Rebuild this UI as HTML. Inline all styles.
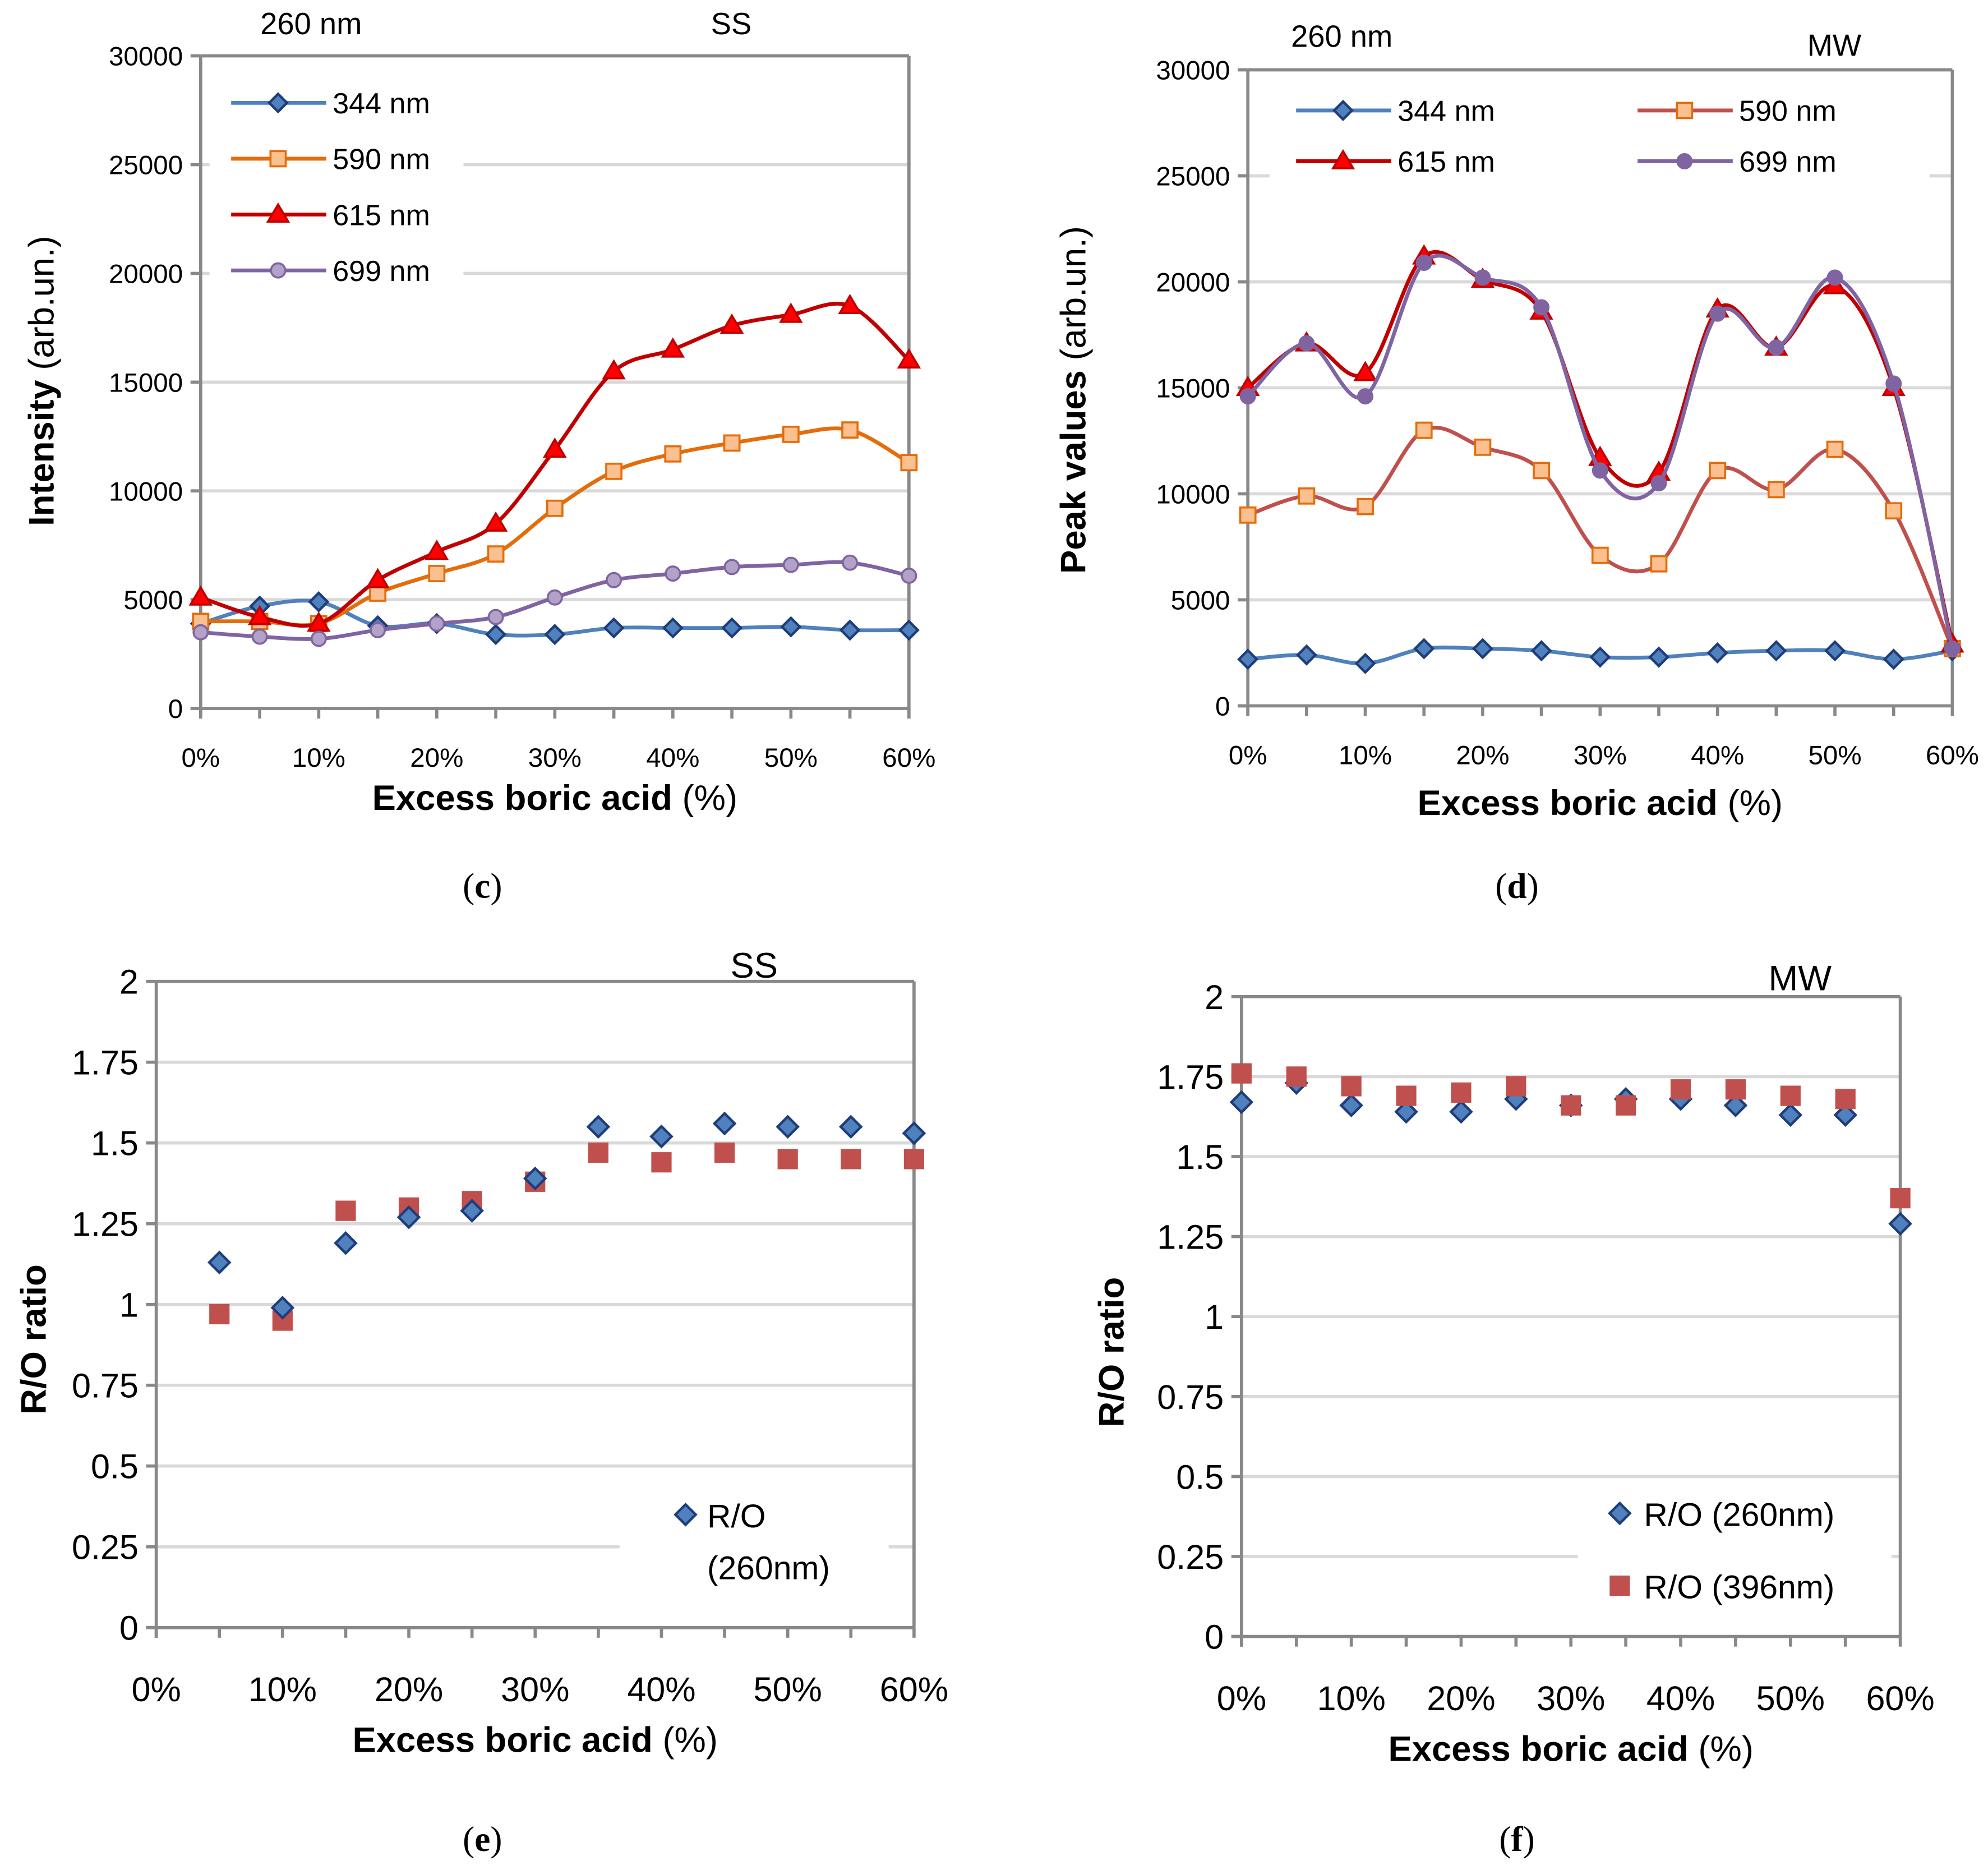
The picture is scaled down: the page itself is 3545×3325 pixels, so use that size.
<!DOCTYPE html>
<html><head><meta charset="utf-8"><style>
html,body{margin:0;padding:0;background:#fff}
svg{display:block}
text{font-family:"Liberation Sans",sans-serif}
text.serif{font-family:"Liberation Serif",serif}
</style></head><body>
<svg id="s" width="3545" height="3325" viewBox="0 0 1566 1469" xmlns="http://www.w3.org/2000/svg">
<rect width="1566" height="1469" fill="#fff"/>
</svg>
<script>
const xPct=[0,5,10,15,20,25,30,35,40,45,50,55,60];
const xTickLabels=["0%","10%","20%","30%","40%","50%","60%"];
// Panel c (SS)
const c344=[3900,4700,4900,3800,3900,3400,3400,3700,3700,3700,3750,3600,3600];
const c590=[4000,4000,3900,5300,6200,7100,9200,10900,11700,12200,12600,12800,11300];
const c615=[5100,4200,3900,5900,7200,8500,11900,15500,16500,17600,18100,18500,16000];
const c699=[3500,3300,3200,3600,3900,4200,5100,5900,6200,6500,6600,6700,6100];
// Panel d (MW)
const d344=[2200,2400,2000,2700,2700,2600,2300,2300,2500,2600,2600,2200,2600];
const d590=[9000,9900,9400,13000,12200,11100,7100,6700,11100,10200,12100,9200,2700];
const d615=[15000,17100,15700,21200,20100,18600,11700,11000,18700,16900,19800,15000,2900];
const d699=[14600,17100,14600,20900,20200,18800,11100,10500,18500,16900,20200,15200,2700];
const intTicks=[0,5000,10000,15000,20000,25000,30000];
// Panel e (SS)
const eX=[5,10,15,20,25,30,35,40,45,50,55,60];
const e260=[1.13,0.99,1.19,1.27,1.29,1.39,1.55,1.52,1.56,1.55,1.55,1.53];
const e396=[0.97,0.95,1.29,1.30,1.32,1.38,1.47,1.44,1.47,1.45,1.45,1.45];
// Panel f (MW)
const f260=[1.67,1.73,1.66,1.64,1.64,1.68,1.66,1.68,1.68,1.66,1.63,1.63,1.29];
const f396=[1.76,1.75,1.72,1.69,1.70,1.72,1.66,1.66,1.71,1.71,1.69,1.68,1.37];
const ratioTicks=[0,0.25,0.5,0.75,1,1.25,1.5,1.75,2];
const ratioLabels=["0","0.25","0.5","0.75","1","1.25","1.5","1.75","2"];

const svg=document.getElementById('s');
const NS='http://www.w3.org/2000/svg';
function mk(tag,attrs,parent){const e=document.createElementNS(NS,tag);for(const k in attrs)e.setAttribute(k,attrs[k]);(parent||svg).appendChild(e);return e;}
function txt(s,x,y,size,opts,parent){const t=mk('text',Object.assign({x:x,y:y,'font-size':size,fill:'#000'},opts||{}),parent);t.textContent=s;return t;}
function smooth(pts){let d='M'+pts[0][0]+','+pts[0][1];for(let i=0;i<pts.length-1;i++){const p0=pts[Math.max(0,i-1)],p1=pts[i],p2=pts[i+1],p3=pts[Math.min(pts.length-1,i+2)];const t=6;d+=' C'+(p1[0]+(p2[0]-p0[0])/t)+','+(p1[1]+(p2[1]-p0[1])/t)+' '+(p2[0]-(p3[0]-p1[0])/t)+','+(p2[1]-(p3[1]-p1[1])/t)+' '+p2[0]+','+p2[1];}return d;}
function marker(type,x,y,g,fill,stroke,r){
  let e;
  if(type==='diamond')e=mk('polygon',{points:`${x},${y-r} ${x+r},${y} ${x},${y+r} ${x-r},${y}`,fill:fill,stroke:stroke,'stroke-width':2},g);
  else if(type==='square')e=mk('rect',{x:x-r,y:y-r,width:2*r,height:2*r,fill:fill,stroke:stroke,'stroke-width':stroke==='none'?0:1.6},g);
  else if(type==='triangle')e=mk('polygon',{points:`${x},${y-r-1} ${x+r+1},${y+r*0.8} ${x-r-1},${y+r*0.8}`,fill:fill,stroke:stroke,'stroke-width':1.6},g);
  else e=mk('circle',{cx:x,cy:y,r:r*0.8,fill:fill,stroke:stroke,'stroke-width':1.6},g);
  
  
  return e;
}
function axes(cfg){
  const g=mk('g',{});
  
  
  const X=v=>cfg.x0+(cfg.x1-cfg.x0)*v/60;
  const Y=v=>cfg.y0+(cfg.yTop-cfg.y0)*v/cfg.yMax;
  cfg.yTicks.forEach((v,i)=>{
    if(v>0&&v<cfg.yMax){const gl=mk('line',{x1:cfg.x0,x2:cfg.x1,y1:Y(v),y2:Y(v),stroke:'#d9d9d9','stroke-width':2.5},g);}
  });
  if(cfg.legendBox){const lb=mk('rect',Object.assign({fill:'#fff'},cfg.legendBox),g);}
  mk('line',{x1:cfg.x0,x2:cfg.x1,y1:Y(cfg.yMax),y2:Y(cfg.yMax),stroke:'#888','stroke-width':2.5},g);
  mk('line',{x1:cfg.x1,x2:cfg.x1,y1:Y(cfg.yMax),y2:cfg.y0,stroke:'#888','stroke-width':2.5},g);
  const ya=mk('line',{x1:cfg.x0,x2:cfg.x0,y1:Y(cfg.yMax),y2:cfg.y0+8,stroke:'#888','stroke-width':2.5},g);
  
  const xa=mk('line',{x1:cfg.x0-8,x2:cfg.x1,y1:cfg.y0,y2:cfg.y0,stroke:'#888','stroke-width':2.5},g);
  
  cfg.yTicks.forEach((v,i)=>{
    mk('line',{x1:cfg.x0-8,x2:cfg.x0,y1:Y(v),y2:Y(v),stroke:'#888','stroke-width':2.5},g);
    const t=txt(cfg.yLabels[i],cfg.x0-14,Y(v)+cfg.tickSize*0.36,cfg.tickSize,{'text-anchor':'end'},g);
    
  });
  xTickLabels.forEach((s,i)=>{
    const xv=X(i*10);
    mk('line',{x1:xv,x2:xv,y1:cfg.y0,y2:cfg.y0+8,stroke:'#888','stroke-width':2.5},g);
    const t=txt(s,xv,cfg.y0+cfg.xLabelDy,cfg.tickSize,{'text-anchor':'middle'},g);
    
  });
  for(let i=0;i<6;i++){mk('line',{x1:X(i*10+5),x2:X(i*10+5),y1:cfg.y0,y2:cfg.y0+8,stroke:'#888','stroke-width':2.5},g);}
  const xt=txt('Excess boric acid ',(cfg.x0+cfg.x1)/2,cfg.y0+cfg.xTitleDy,cfg.titleSize,{'text-anchor':'middle','font-weight':'bold'},g);
  const sp=mk('tspan',{'font-weight':'normal'},xt);sp.textContent='(%)';
  
  const yt=txt('',0,0,cfg.titleSize,{'text-anchor':'middle','font-weight':'bold',transform:`translate(${cfg.yTitleX},${cfg.yTitleY}) rotate(-90)`},g);
  const a=mk('tspan',{},yt);a.textContent=cfg.yTitle;
  if(cfg.yTitle2){const b=mk('tspan',{'font-weight':'normal'},yt);b.textContent=cfg.yTitle2;}
  
  return {g,X,Y};
}
function lineSeries(ax,xs,ys,color,mtype,mfill,mstroke,name){
  const g=mk('g',{},ax.g);
  
  
  const pts=xs.map((x,i)=>[ax.X(x),ax.Y(ys[i])]);
  mk('path',{d:smooth(pts),fill:'none',stroke:color,'stroke-width':3},g);
  pts.forEach(p=>marker(mtype,p[0],p[1],g,mfill,mstroke,mtype==='square'?6:7));
}
function scatter(ax,xs,ys,mtype,fill,stroke,r,name){
  const g=mk('g',{},ax.g);
  
  
  xs.forEach((x,i)=>marker(mtype,ax.X(x),ax.Y(ys[i]),g,fill,stroke,r));
}
function legendLine(g,x,y,color,mtype,mfill,mstroke,label,size){
  const lg=mk('g',{},g);
  
  
  mk('line',{x1:x,x2:x+75,y1:y,y2:y,stroke:color,'stroke-width':3},lg);
  marker(mtype,x+37,y,lg,mfill,mstroke,mtype==='square'?6:7);
  txt(label,x+80,y+size*0.36,size,{},lg);
}
function panelLabel(letter,x,y,name){
  const t=txt('(',x,y,28,{'text-anchor':'middle','class':'serif'});
  const b=mk('tspan',{'font-weight':'bold'},t);b.textContent=letter;
  const c=mk('tspan',{},t);c.textContent=')';
  
}
const blue='#4f81bd',blueS='#1f3d7a',orange='#e46c0a',orangeF='#fac090',red='#c00000',redF='#ff0000',purple='#8064a2',purpleF='#b3a2c7',sq='#c0504d';

// Panel c
let axc=axes({name:'chart-c-ss',x0:158,x1:716,y0:558,yTop:44,yMax:30000,yTicks:intTicks,yLabels:intTicks.map(String),tickSize:21,xLabelDy:46,xTitleDy:80,titleSize:28,yTitleX:42,yTitleY:300,yTitle:'Intensity ',yTitle2:'(arb.un.)',legendBox:{x:165,y:60,width:200,height:175}});
lineSeries(axc,xPct,c344,blue,'diamond',blue,blueS,'series-344nm');
lineSeries(axc,xPct,c590,orange,'square',orangeF,orange,'series-590nm');
lineSeries(axc,xPct,c615,red,'triangle',redF,red,'series-615nm');
lineSeries(axc,xPct,c699,purple,'circle',purpleF,purple,'series-699nm');
legendLine(axc.g,182,81,blue,'diamond',blue,blueS,'344 nm',23);
legendLine(axc.g,182,125,orange,'square',orangeF,orange,'590 nm',23);
legendLine(axc.g,182,169,red,'triangle',redF,red,'615 nm',23);
legendLine(axc.g,182,213,purple,'circle',purpleF,purple,'699 nm',23);
txt('260 nm',245,27,24,{'text-anchor':'middle',});
txt('SS',576,27,24,{'text-anchor':'middle',});
panelLabel('c',380,707,'panel-label-c');

// Panel d
let axd=axes({name:'chart-d-mw',x0:983,x1:1538,y0:556,yTop:55,yMax:30000,yTicks:intTicks,yLabels:intTicks.map(String),tickSize:21,xLabelDy:46,xTitleDy:86,titleSize:28,yTitleX:855,yTitleY:315,yTitle:'Peak values ',yTitle2:'(arb.un.)',legendBox:{x:1000,y:68,width:520,height:80}});
lineSeries(axd,xPct,d344,blue,'diamond',blue,blueS,'series-344nm');
lineSeries(axd,xPct,d590,sq,'square',orangeF,orange,'series-590nm');
lineSeries(axd,xPct,d615,red,'triangle',redF,red,'series-615nm');
lineSeries(axd,xPct,d699,purple,'circle',purple,purple,'series-699nm');
legendLine(axd.g,1021,87,blue,'diamond',blue,blueS,'344 nm',23);
legendLine(axd.g,1290,87,sq,'square',orangeF,orange,'590 nm',23);
legendLine(axd.g,1021,127,red,'triangle',redF,red,'615 nm',23);
legendLine(axd.g,1290,127,purple,'circle',purple,purple,'699 nm',23);
txt('260 nm',1057,37,24,{'text-anchor':'middle',});
txt('MW',1445,44,24,{'text-anchor':'middle',});
panelLabel('d',1195,707,'panel-label-d');

// Panel e
let axe=axes({name:'chart-e-ss',x0:123,x1:720,y0:1282,yTop:773,yMax:2,yTicks:ratioTicks,yLabels:ratioLabels,tickSize:27,xLabelDy:58,xTitleDy:98,titleSize:28,yTitleX:36,yTitleY:1055,yTitle:'R/O ratio',legendBox:{x:488,y:1160,width:212,height:100}});
scatter(axe,eX,e396,'square',sq,'none',8,'series-ro-396nm');
scatter(axe,eX,e260,'diamond',blue,blueS,8,'series-ro-260nm');
{const lg=mk('g',{},axe.g);
marker('diamond',540,1193,lg,blue,blueS,8);txt('R/O',557,1203,26,{},lg);txt('(260nm)',557,1244,26,{},lg);}
txt('SS',594,770,28,{'text-anchor':'middle',});
panelLabel('e',380,1458,'panel-label-e');

// Panel f
let axf=axes({name:'chart-f-mw',x0:978,x1:1497,y0:1289,yTop:785,yMax:2,yTicks:ratioTicks,yLabels:ratioLabels,tickSize:27,xLabelDy:58,xTitleDy:98,titleSize:28,yTitleX:885,yTitleY:1065,yTitle:'R/O ratio',legendBox:{x:1243,y:1165,width:247,height:110}});
scatter(axf,xPct,f260,'diamond',blue,blueS,8,'series-ro-260nm');
scatter(axf,xPct,f396,'square',sq,'none',8,'series-ro-396nm');
{const lg=mk('g',{},axf.g);
marker('diamond',1276,1192,lg,blue,blueS,8);txt('R/O (260nm)',1295,1202,26,{},lg);}
{const lg=mk('g',{},axf.g);
marker('square',1276,1249,lg,sq,'none',8);txt('R/O (396nm)',1295,1259,26,{},lg);}
txt('MW',1418,780,28,{'text-anchor':'middle',});
panelLabel('f',1195,1458,'panel-label-f');
</script>
</body></html>
